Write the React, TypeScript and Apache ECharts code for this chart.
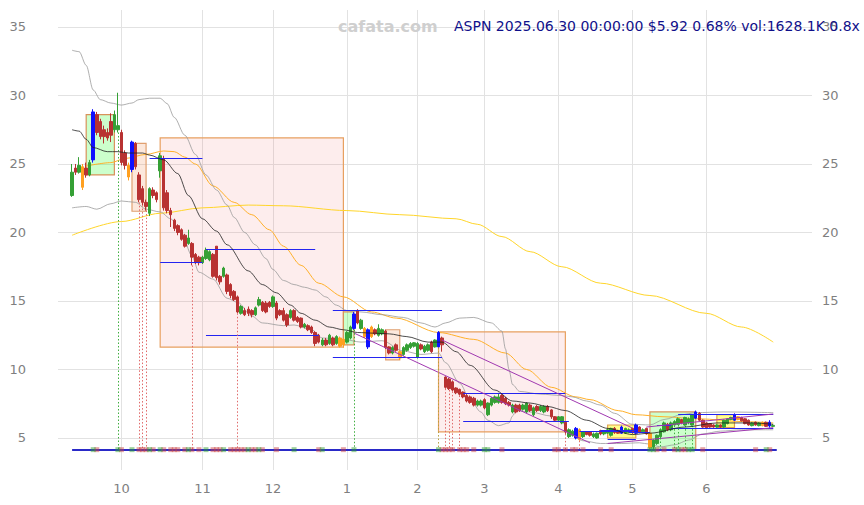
import React, { useEffect, useRef } from 'react';
import * as echarts from 'echarts';

// ---------- data ----------
const TICKER = 'ASPN';
const START_DATE = '2024-09-11';
const HOLIDAYS = ['2024-11-28','2024-12-25','2025-01-01','2025-01-09','2025-01-20','2025-02-17','2025-04-18','2025-05-26','2025-06-19'];
const LAST_VOL = '1628.1K';
const VOL_RATIO = '0.8x';

const OPEN = [
 22.7,24.7,24.4,24.8,24.7,24.2,25.3,28.6,28.1,27.5,
 27.3,28.1,27.5,27.5,27.3,25.8,24.9,24.6,26.5,24.2,
 23.2,22.2,21.4,23.1,22.9,24.5,25.4,22.9,21.6,20.9,
 20.5,20.2,19.8,19.2,19.2,18.4,18.2,17.8,18.1,18.0,
 18.4,19.0,16.8,16.8,16.9,16.2,15.7,15.3,14.1,14.3,
 14.4,14.3,14.0,14.7,14.9,14.85,14.9,14.6,14.85,14.3,
 14.3,14.0,13.8,14.3,13.8,13.75,13.1,13.2,13.1,12.7,
 12.5,11.8,12.15,11.9,12.3,11.9,12.3,12.2,12.0,12.3,
 13.0,14.3,13.0,13.0,12.9,13.1,12.9,12.5,12.6,12.8,
 11.65,11.2,11.8,11.3,11.1,11.4,11.6,11.7,10.9,11.8,
 11.3,11.4,12.0,11.65,11.65,12.3,9.45,9.3,9.1,8.65,
 8.55,8.35,8.1,8.0,7.9,7.4,7.4,7.8,6.7,7.4,
 7.6,7.6,8.1,7.9,7.6,6.9,7.4,7.4,7.1,6.9,
 7.4,6.7,7.3,7.0,6.9,7.3,7.05,6.55,6.3,6.1,
 6.15,5.1,5.2,5.0,5.6,5.1,5.45,5.45,5.1,5.0,
 5.55,5.3,5.35,5.2,5.7,5.55,5.35,5.35,5.4,5.7,
 5.35,5.8,5.45,5.7,5.35,4.35,4.6,5.1,5.45,6.0,
 5.6,5.95,6.0,6.35,5.95,6.1,5.95,6.45,6.8,6.3,
 6.1,6.05,5.95,5.8,5.95,5.8,6.05,6.35,6.3,6.35,
 6.5,6.4,6.3,5.9,6.15,5.9,6.15,6.15,6.15,5.85];
const CLOSE = [
 24.4,24.4,24.9,23.3,24.2,25.1,28.8,27.3,27.0,27.0,
 26.9,27.1,28.6,27.8,25.1,24.9,24.05,26.6,24.8,22.4,
 22.2,21.9,23.2,22.7,22.4,25.6,21.8,21.6,21.3,20.3,
 20.0,19.5,19.0,19.6,18.2,17.8,17.8,18.2,18.7,18.6,
 16.8,16.7,16.4,17.4,15.7,15.4,15.1,14.2,14.6,14.0,
 14.1,14.0,14.5,15.1,14.3,14.2,14.6,15.3,13.75,14.0,
 13.6,13.25,14.3,13.6,13.5,13.1,13.3,12.9,12.7,11.9,
 12.0,12.15,11.8,12.5,11.8,12.4,11.7,11.8,12.7,13.1,
 14.05,13.4,13.6,12.4,11.65,12.4,12.6,13.0,12.9,11.6,
 11.2,11.6,11.4,10.85,11.6,11.8,11.9,11.95,11.9,11.5,
 11.7,11.8,11.3,12.15,12.7,11.8,8.7,8.6,8.5,8.3,
 8.2,8.0,7.7,7.6,7.4,7.7,7.7,7.2,7.55,7.9,
 8.0,8.0,7.6,7.5,7.4,7.4,6.9,7.0,7.4,7.55,
 7.0,7.2,7.0,7.3,7.3,7.0,6.55,6.3,6.55,6.55,
 5.45,5.6,5.5,5.7,4.9,5.45,5.25,5.2,5.3,5.35,
 5.3,5.45,5.6,5.7,5.4,5.35,5.8,5.7,5.6,5.4,
 5.95,5.4,5.6,5.3,4.3,4.85,5.2,5.6,6.1,5.6,
 6.1,6.2,6.4,6.1,6.5,6.4,6.7,6.9,6.3,5.8,
 5.75,5.8,5.8,5.95,5.8,6.3,6.4,6.5,6.7,6.55,
 6.25,6.05,5.95,6.1,5.95,6.1,5.9,5.85,5.88,5.92];
const LOW = [
 22.6,24.2,24.3,23.1,24.0,24.1,25.1,27.1,26.8,26.5,
 26.7,26.6,27.3,27.3,24.9,24.6,23.8,24.4,24.6,22.2,
 22.0,21.6,21.2,22.5,22.2,24.0,21.6,21.4,20.4,20.1,
 19.8,19.4,18.9,19.1,17.6,17.7,17.6,17.7,18.0,17.9,
 16.7,16.5,16.2,16.7,15.5,15.2,15.0,14.1,14.0,13.9,
 13.9,13.8,13.9,14.6,14.2,14.1,14.5,14.5,13.6,13.9,
 13.5,13.1,13.7,13.5,13.4,13.0,13.0,12.8,12.6,11.7,
 11.9,11.7,11.7,11.8,11.7,11.8,11.6,11.6,11.9,12.2,
 12.9,13.3,12.9,12.3,11.5,12.3,12.5,12.4,12.5,11.5,
 11.1,11.1,11.3,10.7,11.0,11.3,11.5,11.6,10.8,11.4,
 11.2,11.3,11.2,11.6,11.6,11.3,8.6,8.5,8.4,8.2,
 8.1,7.9,7.6,7.5,7.3,7.3,7.3,7.1,6.6,7.3,
 7.5,7.5,7.5,7.4,7.3,6.8,6.8,6.9,7.0,6.8,
 6.9,6.6,6.9,6.9,6.8,6.9,6.4,6.2,6.2,6.0,
 5.3,5.0,5.1,4.9,4.8,5.0,5.2,5.1,5.0,4.95,
 5.2,5.2,5.3,5.1,5.3,5.3,5.3,5.3,5.35,5.3,
 5.3,5.35,5.4,5.25,4.2,4.2,4.5,5.0,5.4,5.5,
 5.5,5.9,5.95,6.0,5.9,6.0,5.9,6.4,6.25,5.75,
 5.7,5.75,5.75,5.75,5.75,5.75,6.0,6.3,6.25,6.3,
 6.2,6.0,5.9,5.85,5.9,5.85,5.85,5.8,5.75,5.8];
const HIGH = [
 25.0,25.0,25.5,25.0,25.1,25.3,29.0,28.8,28.3,27.8,
 27.6,28.7,28.9,30.2,27.5,26.0,25.1,26.7,26.6,24.4,
 23.4,22.4,23.3,23.3,23.0,25.8,25.6,23.1,21.8,21.0,
 20.6,20.3,19.9,20.2,19.3,18.5,18.3,18.3,18.9,18.7,
 18.5,19.0,16.9,17.5,17.0,16.3,15.8,15.4,14.7,14.5,
 14.6,14.4,14.6,15.3,15.0,15.0,15.0,15.4,15.0,14.4,
 14.5,14.1,14.4,14.4,13.9,13.8,13.4,13.3,13.2,12.8,
 12.6,12.3,12.3,12.6,12.4,12.5,12.4,12.3,12.8,13.2,
 14.2,14.4,13.7,13.1,13.0,13.2,13.0,13.3,13.0,12.9,
 11.7,11.7,11.9,11.4,11.7,11.9,12.0,12.0,12.0,11.9,
 11.8,11.9,12.1,12.2,12.8,12.4,9.5,9.4,9.2,8.7,
 8.6,8.4,8.2,8.1,8.0,7.8,7.8,7.9,7.6,8.0,
 8.1,8.3,8.2,8.0,7.7,7.5,7.5,7.5,7.5,7.6,
 7.5,7.3,7.4,7.4,7.4,7.4,7.1,6.6,6.6,6.6,
 6.2,5.7,5.6,5.8,5.7,5.5,5.5,5.5,5.4,5.4,
 5.6,5.5,5.7,5.75,5.8,5.6,5.9,5.75,5.7,5.75,
 6.05,5.85,5.7,5.75,5.4,4.9,5.25,5.7,6.2,6.1,
 6.2,6.3,6.5,6.4,6.55,6.5,6.75,7.0,6.9,6.35,
 6.15,6.1,6.0,6.0,6.0,6.35,6.45,6.55,6.8,6.6,
 6.55,6.45,6.35,6.15,6.2,6.15,6.2,6.2,6.3,6.0];

const BLUE_CANDLES = [6, 17, 80, 84, 104, 143, 156, 160, 177, 188, 198];
const ORANGE_CANDLES = [3, 16, 76, 77, 83, 85, 93, 144, 164, 189, 196];

// moving average / band lines, sampled as [day index, value]
const MA_BLACK = [[0,27.5],[2,27.4],[4,26.8],[6,26.2],[10,25.9],[13,25.9],[16,25.8],[20,25.8],[22,25.65],[26,25.3],[30,24.3],[33,22.7],[37,21.0],[41,20.1],[44,19.1],[50,17.2],[54,16.2],[58,15.6],[62,14.7],[65,14.1],[69,13.6],[73,13.1],[77,12.9],[81,12.7],[86,12.65],[90,12.6],[95,12.4],[101,12.0],[105,12.0],[109,11.3],[113,10.3],[120,8.5],[125,7.7],[130,7.55],[135,7.3],[140,7.0],[146,6.3],[152,5.7],[159,5.25],[164,5.35],[174,5.8],[183,6.1],[193,6.1],[199,6.0]];
const BB_UPPER = [[0,33.3],[2,33.2],[4,32.2],[6,30.4],[8,29.7],[11,29.45],[14,29.3],[17,29.45],[19,29.7],[22,29.8],[25,29.8],[27,29.4],[29,28.4],[32,27.1],[35,25.7],[38,24.2],[41,23.1],[44,22.0],[46,21.1],[49,20.0],[52,19.1],[55,18.1],[57,17.3],[60,16.5],[63,16.2],[66,16.0],[69,15.8],[72,15.3],[75,14.7],[78,14.3],[82,14.2],[88,14.0],[94,13.8],[99,13.4],[103,13.1],[106,13.4],[110,13.75],[114,13.8],[119,13.4],[122,12.8],[123,11.5],[124,10.0],[125,8.9],[127,8.4],[133,8.2],[139,8.1],[142,8.0],[146,7.7],[150,7.4],[154,6.8],[159,6.0],[164,5.95],[168,6.35],[173,6.7],[177,6.85],[185,6.9],[199,6.85]];
const BB_LOWER = [[0,21.8],[4,21.9],[7,21.7],[11,22.1],[14,22.3],[18,22.2],[21,21.7],[25,21.5],[28,21.0],[31,20.0],[34,18.3],[36,17.1],[40,16.6],[44,15.2],[47,14.9],[51,13.9],[54,13.4],[60,13.2],[63,13.25],[68,12.9],[71,12.3],[77,12.2],[82,12.0],[88,12.1],[94,11.35],[99,11.1],[104,11.2],[106,10.5],[110,9.0],[113,7.8],[116,6.9],[118,6.3],[121,5.9],[124,6.1],[125,6.6],[126,7.0],[130,6.9],[136,6.6],[139,6.3],[141,5.3],[145,4.8],[150,4.6],[156,4.6],[161,4.65],[164,4.55],[167,4.35],[171,4.5],[175,4.85],[179,5.3],[184,5.5],[190,5.6],[199,5.6]];
const MA_ORANGE = [[4,24.85],[11,25.1],[15,25.4],[21,25.7],[26,25.95],[29,25.9],[32,25.5],[35,25.0],[40,23.4],[46,22.2],[51,21.3],[56,20.2],[60,19.0],[65,17.6],[70,16.3],[77,15.3],[85,14.2],[92,13.75],[104,12.7],[114,12.2],[123,11.2],[129,10.0],[136,8.7],[143,8.0],[147,7.8],[155,7.0],[160,6.7],[168,6.55],[178,6.4],[190,6.2],[199,6.1]];
const MA_YELLOW = [[0,19.8],[14,20.8],[25,21.4],[37,21.8],[50,22.0],[60,21.95],[78,21.6],[93,21.3],[109,21.0],[115,20.6],[122,19.7],[130,18.6],[139,17.5],[150,16.3],[164,15.4],[180,14.1],[190,13.1],[199,12.0]];

// boxes: [from, to, top, bottom, kind]
const BOXES = [[4,12,28.6,24.2,'g'],[17,21,26.5,21.55,'o'],[25,77,26.9,11.64,'p'],[77,80,14.2,11.8,'g'],[89,93,12.9,10.7,'o'],[104,140,12.74,5.44,'p'],[152,160,5.95,5.0,'y'],[164,177,6.9,4.12,'g'],[183,188,6.7,5.75,'y']];
// horizontal levels: [from, to, value]
const LEVELS = [[22,37,25.4],[25,37,17.8],[38,69,18.8],[38,70,12.5],[74,105,14.3],[74,105,10.9],[111,140,8.3],[111,141,6.2],[144,159,5.5],[152,160,4.93],[158,164,5.45],[150,160,5.6],[166,170,5.95],[172,199,6.7],[170,199,5.73]];
// trend lines: [from, v1, to, v2]
const TRENDS = [[80,12.66,147,4.64],[105,12.15,159,5.73],[163,5.8,199,6.75],[152,4.6,199,5.75]];
// signal verticals
const SIG_DOWN = [19, 20, 21, 34, 47, 106, 107, 108, 110, 140, 144];
const SIG_UP = [13, 80, 165, 167, 171, 172, 174, 176];
const SIG_OTHER = [[104, '#b8a040'], [164, '#e8a040']];
// bottom markers
const MARK_DOWN = [7,14,19,20,21,23,26,28,29,30,32,34,36,40,41,42,45,46,47,48,49,51,52,54,58,70,77,105,106,107,108,110,111,112,114,122,137,138,140,142,143,145,150,153,166,168,171,173,174,179,194,198];
const MARK_UP = [6,13,17,22,25,33,38,43,50,53,63,71,80,104,117,118,164,165,172,175,176,197];
const BASE = 4.12;

// ---------- helpers ----------
const PAD_L = 4;
const PAD_R = 11;
const Y_MIN = 2.664;
const Y_MAX = 36.24;

function tradingDays(start: string, n: number): string[] {
  const out: string[] = [];
  const d = new Date(start + 'T00:00:00Z');
  const hol = new Set(HOLIDAYS);
  while (out.length < n) {
    const wd = d.getUTCDay();
    const s = d.toISOString().slice(0, 10);
    if (wd !== 0 && wd !== 6 && !hol.has(s)) out.push(s);
    d.setUTCDate(d.getUTCDate() + 1);
  }
  return out;
}

const N = CLOSE.length;
const DATES = tradingDays(START_DATE, N);
const CATS: string[] = [];
for (let i = 0; i < PAD_L; i++) CATS.push('L' + i);
DATES.forEach((d) => CATS.push(d));
for (let i = 0; i < PAD_R; i++) CATS.push('R' + i);

const labelMap: Record<string, string> = {};
const monthStartIdx = new Set<number>();
DATES.forEach((d, i) => {
  if (i > 0 && d.slice(5, 7) !== DATES[i - 1].slice(5, 7)) {
    labelMap[d] = String(parseInt(d.slice(5, 7), 10));
    monthStartIdx.add(i + PAD_L);
  }
});

const GREEN = '#35a035';
const RED = '#b83232';
const blueSet = new Set(BLUE_CANDLES);
const orangeSet = new Set(ORANGE_CANDLES);

const candleData: any[] = CATS.map(() => '-');
for (let i = 0; i < N; i++) {
  const v = [OPEN[i], CLOSE[i], LOW[i], HIGH[i]];
  let c: string | null = null;
  if (blueSet.has(i)) c = '#1010ff';
  else if (orangeSet.has(i)) c = '#ffa020';
  candleData[i + PAD_L] = c
    ? { value: v, itemStyle: { color: c, color0: c, borderColor: c, borderColor0: c } }
    : v;
}

const shift = (arr: number[][]) => arr.map(([i, v]) => [i + PAD_L, v]);

const boxStyle: Record<string, any> = {
  g: { color: 'rgba(0,255,0,0.2)', borderColor: '#d8925a', borderWidth: 1.2 },
  o: { color: 'rgba(240,140,80,0.2)', borderColor: '#e0a070', borderWidth: 1.2 },
  p: { color: 'rgba(240,80,80,0.1)', borderColor: '#e8a060', borderWidth: 1.2 },
  y: { color: 'rgba(255,255,0,0.45)', borderColor: '#e0a050', borderWidth: 1.2 },
};

const areaData = BOXES.map(([a, b, t, bt, k]: any) => [
  { coord: [a + PAD_L, t], itemStyle: boxStyle[k] },
  { coord: [b + PAD_L, bt] },
]);

const lineData: any[] = [];
LEVELS.forEach(([a, b, v]) => {
  lineData.push([
    { coord: [a + PAD_L, v], lineStyle: { color: '#2424f0', width: 1, type: 'solid' } },
    { coord: [b + PAD_L, v] },
  ]);
});
TRENDS.forEach(([a, v1, b, v2]) => {
  lineData.push([
    { coord: [a + PAD_L, v1], lineStyle: { color: '#a038b0', width: 1, type: 'solid' } },
    { coord: [b + PAD_L, v2] },
  ]);
});
const vert = (i: number, color: string) => [
  { coord: [i + PAD_L, LOW[i]], lineStyle: { color, width: 1, type: [1.5, 2] } },
  { coord: [i + PAD_L, BASE] },
];
SIG_DOWN.forEach((i) => lineData.push(vert(i, '#e06a6a')));
SIG_UP.forEach((i) => lineData.push(vert(i, '#3fae3f')));
SIG_OTHER.forEach(([i, c]: any) => lineData.push(vert(i, c)));
lineData.push([
  { coord: [PAD_L, BASE], lineStyle: { color: '#2a2ac8', width: 2, type: 'solid' } },
  { coord: [N + PAD_L, BASE] },
]);

const FONT = 'DejaVu Sans';
const lastChg = ((CLOSE[N - 1] / CLOSE[N - 2] - 1) * 100).toFixed(2);
const lastDate = DATES[N - 1].replace(/-/g, '.');
const TITLE = `${TICKER} ${lastDate} 00:00:00 $${CLOSE[N - 1].toFixed(2)} ${lastChg}% vol:${LAST_VOL} ${VOL_RATIO}`;

const yAxisBase = {
  type: 'value',
  min: Y_MIN,
  max: Y_MAX,
  splitNumber: 6,
  axisLine: { show: false },
  axisTick: { show: false },
  scale: true,
};

const option: any = {
  animation: false,
  backgroundColor: '#ffffff',
  grid: { left: 58, right: 52, top: 10, bottom: 35 },
  xAxis: {
    type: 'category',
    data: CATS,
    boundaryGap: false,
    axisLine: { show: false },
    axisTick: { show: false },
    axisLabel: {
      interval: (i: number) => monthStartIdx.has(i),
      formatter: (v: string) => labelMap[v] || '',
      color: '#7f7f7f',
      fontSize: 13,
      fontFamily: FONT,
      margin: 12,
    },
    splitLine: {
      show: true,
      interval: (i: number) => monthStartIdx.has(i),
      lineStyle: { color: '#e2e2e2', width: 1 },
    },
  },
  yAxis: [
    {
      ...yAxisBase,
      position: 'left',
      axisLabel: { color: '#7f7f7f', fontSize: 13, fontFamily: FONT, margin: 32, showMinLabel: false, showMaxLabel: false },
      splitLine: { show: true, lineStyle: { color: '#e2e2e2', width: 1 }, showMinLine: false, showMaxLine: false },
    },
    {
      ...yAxisBase,
      position: 'right',
      axisLabel: { color: '#7f7f7f', fontSize: 13, fontFamily: FONT, margin: 10, showMinLabel: false, showMaxLabel: false },
      splitLine: { show: false },
    },
  ],
  graphic: [
    { type: 'text', x: 338, y: 26, z: 100, style: { text: 'cafata.com', fill: '#cfcfcf', font: `bold 16px "${FONT}"`, verticalAlign: 'middle', align: 'left' } },
    { type: 'text', x: 454, y: 26, z: 100, style: { text: TITLE, fill: '#10108a', font: `14px "${FONT}"`, verticalAlign: 'middle', align: 'left' } },
  ],
  series: [
    {
      type: 'line', data: [], z: 1, silent: true,
      markArea: { silent: true, data: areaData, label: { show: false } },
    },
    { type: 'line', data: shift(MA_YELLOW), smooth: 0.3, smoothMonotone: 'x', showSymbol: false, z: 2, silent: true, lineStyle: { color: '#ffd52a', width: 1 } },
    { type: 'line', data: shift(MA_ORANGE), smooth: 0.3, smoothMonotone: 'x', showSymbol: false, z: 2, silent: true, lineStyle: { color: '#ffb02a', width: 1 } },
    { type: 'line', data: shift(BB_UPPER), smooth: 0.3, smoothMonotone: 'x', showSymbol: false, z: 2, silent: true, lineStyle: { color: '#9a9a9a', width: 0.8 } },
    { type: 'line', data: shift(BB_LOWER), smooth: 0.3, smoothMonotone: 'x', showSymbol: false, z: 2, silent: true, lineStyle: { color: '#9a9a9a', width: 0.8 } },
    {
      type: 'line', data: [], z: 3, silent: true,
      markLine: { silent: true, symbol: ['none', 'none'], label: { show: false }, data: lineData },
    },
    {
      type: 'candlestick',
      data: candleData,
      barWidth: 3,
      z: 4,
      itemStyle: { color: GREEN, color0: RED, borderColor: GREEN, borderColor0: RED, borderWidth: 1 },
    },
    { type: 'line', data: shift(MA_BLACK), smooth: 0.3, smoothMonotone: 'x', showSymbol: false, z: 5, silent: true, lineStyle: { color: '#202020', width: 0.8 } },
    {
      type: 'scatter', z: 6, silent: true, symbol: 'rect', symbolSize: [5, 5],
      data: MARK_DOWN.map((i) => [i + PAD_L, BASE + 0.03]),
      itemStyle: { color: 'rgba(205,70,70,0.6)' },
    },
    {
      type: 'scatter', z: 6, silent: true, symbol: 'rect', symbolSize: [5, 5],
      data: MARK_UP.map((i) => [i + PAD_L, BASE + 0.03]),
      itemStyle: { color: 'rgba(50,160,50,0.6)' },
    },
  ],
};

export default function App() {
  const ref = useRef<HTMLDivElement>(null);
  useEffect(() => {
    document.body.style.margin = '0';
    const chart = echarts.init(ref.current as HTMLDivElement, null, { renderer: 'svg' });
    chart.setOption(option);
    return () => chart.dispose();
  }, []);
  return <div ref={ref} style={{ width: 864, height: 505 }} />;
}
